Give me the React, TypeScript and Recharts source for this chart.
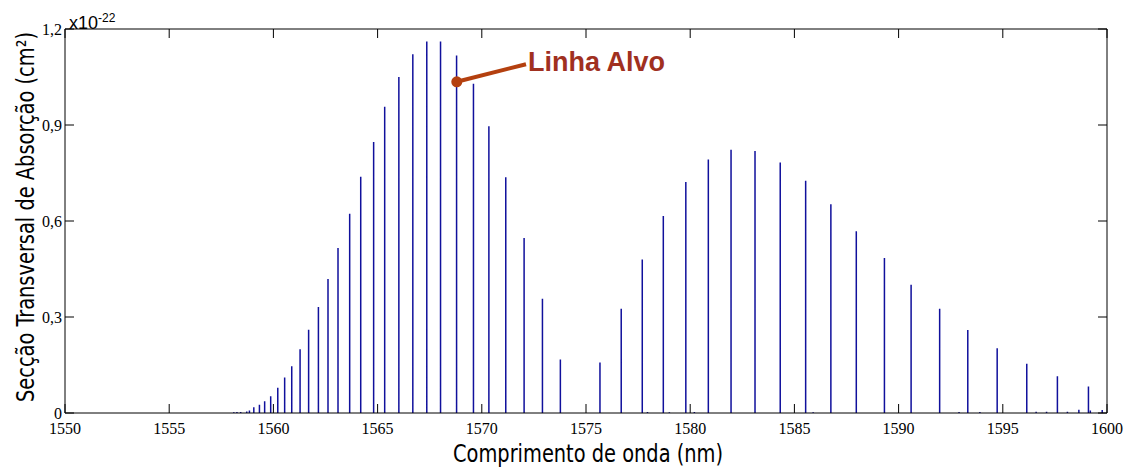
import React from "react";
import {
  LineChart,
  Line,
  XAxis,
  YAxis,
  ReferenceDot,
  ReferenceLine,
} from "recharts";

// comprimentos de onda das linhas (nm) e secção de absorção (x1e-22 cm²)
const wavelengths = [
  1558.43, 1558.72, 1558.85, 1559.06, 1559.33, 1559.58, 1559.87, 1560.21,
  1560.54, 1560.88, 1561.28, 1561.69, 1562.16, 1562.62, 1563.1, 1563.66,
  1564.19, 1564.81, 1565.34, 1566.02, 1566.69, 1567.36, 1568.02, 1568.79,
  1569.6, 1570.34, 1571.15, 1572.03, 1572.91, 1573.77, 1575.67, 1576.69,
  1577.7, 1578.71, 1579.79, 1580.87, 1581.96, 1583.11, 1584.32, 1585.54,
  1586.75, 1587.97, 1589.32, 1590.6, 1591.97, 1593.32, 1594.73, 1596.15,
  1597.62, 1599.11,
];
const crossSections = [
  0.003, 0.005, 0.008, 0.018, 0.026, 0.037, 0.052, 0.079, 0.111, 0.146,
  0.199, 0.26, 0.331, 0.419, 0.516, 0.623, 0.738, 0.847, 0.957, 1.05, 1.121,
  1.161, 1.161, 1.117, 1.029, 0.896, 0.737, 0.547, 0.357, 0.167, 0.158,
  0.326, 0.48, 0.616, 0.722, 0.792, 0.823, 0.819, 0.783, 0.726, 0.652,
  0.568, 0.484, 0.401, 0.326, 0.259, 0.202, 0.154, 0.115, 0.083,
];

// linhas fracas junto à base
const weakWavelengths = [
  1558.1, 1558.25, 1577.95, 1579.0, 1580.2, 1585.9, 1592.9, 1593.9, 1596.6,
  1597.1, 1598.1, 1598.65, 1599.2, 1599.77,
];
const weakCrossSections = [
  0.002, 0.003, 0.003, 0.002, 0.003, 0.002, 0.003, 0.003, 0.004, 0.004,
  0.004, 0.01, 0.008, 0.009,
];

const xTicks = [1550, 1555, 1560, 1565, 1570, 1575, 1580, 1585, 1590, 1595, 1600];
const yTicks = [0, 0.3, 0.6, 0.9, 1.2];

// linha alvo
const targetLine = { x: 1568.8, y: 1.035 };
const targetLabel = { x: 1572.12, y: 1.09 };

// cada linha vira um segmento vertical (0 -> valor), separado por null
function stems(xs: number[], ys: number[]) {
  const out: { x: number; y: number | null }[] = [];
  xs.forEach((x, i) => {
    out.push({ x, y: 0 });
    out.push({ x, y: ys[i] });
    out.push({ x, y: null });
  });
  return out;
}

const strongData = stems(wavelengths, crossSections);
const weakData = stems(weakWavelengths, weakCrossSections);

const W = 1133;
const H = 467;
const serif = "'Liberation Serif', 'Times New Roman', serif";
const sansNarrow = "'Liberation Sans Narrow', 'DejaVu Sans Condensed', 'Liberation Sans', sans-serif";
const lineColor = "#10109c";
const accent = "#b4400f";

const fmt = (v: number) => String(v).replace(".", ",");

function BottomTick({ x, y, payload }: any) {
  return (
    <g>
      <line x1={x} y1={y} x2={x} y2={y - 9} stroke="#000" />
      <text x={x} y={y + 21} textAnchor="middle" fontFamily={serif} fontSize={16} fill="#000">
        {payload.value}
      </text>
    </g>
  );
}

function TopTick({ x, y }: any) {
  return <line x1={x} y1={y} x2={x} y2={y + 9} stroke="#000" />;
}

function LeftTick({ x, y, payload }: any) {
  return (
    <g>
      <line x1={x} y1={y} x2={x + 9} y2={y} stroke="#000" />
      <text x={x - 3} y={y + 6} textAnchor="end" fontFamily={serif} fontSize={16} fill="#000">
        {fmt(payload.value)}
      </text>
    </g>
  );
}

function RightTick({ x, y }: any) {
  return <line x1={x} y1={y} x2={x - 9} y2={y} stroke="#000" />;
}

export default function App() {
  return (
    <div style={{ position: "absolute", left: 0, top: 0, width: W, height: H, background: "#fff" }}>
      <LineChart
        width={W}
        height={H}
        margin={{ top: 28, right: 25, bottom: 53, left: 64 }}
      >
        <XAxis
          xAxisId="b"
          type="number"
          dataKey="x"
          domain={[1550, 1600]}
          ticks={xTicks}
          allowDataOverflow
          orientation="bottom"
          height={1}
          tickSize={0}
          tickMargin={0}
          tickLine={false}
          tick={<BottomTick />}
          axisLine={{ stroke: "#000" }}
        />
        <XAxis
          xAxisId="t"
          type="number"
          dataKey="x"
          domain={[1550, 1600]}
          ticks={xTicks}
          allowDataOverflow
          orientation="top"
          height={1}
          tickSize={0}
          tickMargin={0}
          tickLine={false}
          tick={<TopTick />}
          axisLine={{ stroke: "#000" }}
        />
        <YAxis
          yAxisId="l"
          type="number"
          domain={[0, 1.2]}
          ticks={yTicks}
          allowDataOverflow
          width={1}
          tickSize={0}
          tickMargin={0}
          tickLine={false}
          tick={<LeftTick />}
          axisLine={{ stroke: "#000" }}
        />
        <YAxis
          yAxisId="r"
          orientation="right"
          type="number"
          domain={[0, 1.2]}
          ticks={yTicks}
          allowDataOverflow
          width={1}
          tickSize={0}
          tickMargin={0}
          tickLine={false}
          tick={<RightTick />}
          axisLine={{ stroke: "#000" }}
        />
        <Line
          data={weakData}
          xAxisId="b"
          yAxisId="l"
          dataKey="y"
          stroke={lineColor}
          strokeWidth={1.5}
          dot={false}
          activeDot={false}
          connectNulls={false}
          isAnimationActive={false}
        />
        <Line
          data={strongData}
          xAxisId="b"
          yAxisId="l"
          dataKey="y"
          stroke={lineColor}
          strokeWidth={1.5}
          dot={false}
          activeDot={false}
          connectNulls={false}
          isAnimationActive={false}
        />
        <Line
          data={strongData}
          xAxisId="t"
          yAxisId="r"
          dataKey="y"
          stroke="none"
          dot={false}
          activeDot={false}
          isAnimationActive={false}
        />
        <ReferenceLine
          xAxisId="b"
          yAxisId="l"
          segment={[targetLine, targetLabel]}
          stroke={accent}
          strokeWidth={4}
        />
        <ReferenceDot
          xAxisId="b"
          yAxisId="l"
          x={targetLine.x}
          y={targetLine.y}
          r={5.5}
          fill={accent}
          stroke="none"
        />
        <ReferenceDot
          xAxisId="b"
          yAxisId="l"
          x={targetLabel.x}
          y={targetLabel.y}
          r={0}
          stroke="none"
          fill="none"
          label={{
            content: ({ viewBox }: any) => (
              <text
                x={viewBox.x + 2}
                y={viewBox.y + 7}
                fontFamily="'Liberation Sans', Arial, sans-serif"
                fontWeight="bold"
                fontSize={27}
                fill="#a0301f"
              >
                Linha Alvo
              </text>
            ),
          }}
        />
      </LineChart>
      <svg
        width={W}
        height={H}
        style={{ position: "absolute", left: 0, top: 0, pointerEvents: "none" }}
      >
        <text x={69} y={29} fontFamily="'Liberation Sans', sans-serif" fontSize={18} fill="#000">
          x10
          <tspan dy={-7} fontSize={12}>-22</tspan>
        </text>
        <text
          x={588}
          y={462}
          textAnchor="middle"
          fontFamily={sansNarrow}
          fontSize={24}
          textLength={270}
          lengthAdjust="spacingAndGlyphs"
          fill="#000"
        >
          Comprimento de onda (nm)
        </text>
        <text
          transform="translate(34,217) rotate(-90)"
          textAnchor="middle"
          fontFamily={sansNarrow}
          fontSize={25}
          textLength={370}
          lengthAdjust="spacingAndGlyphs"
          fill="#000"
        >
          Secção Transversal de Absorção (cm²)
        </text>
      </svg>
    </div>
  );
}
